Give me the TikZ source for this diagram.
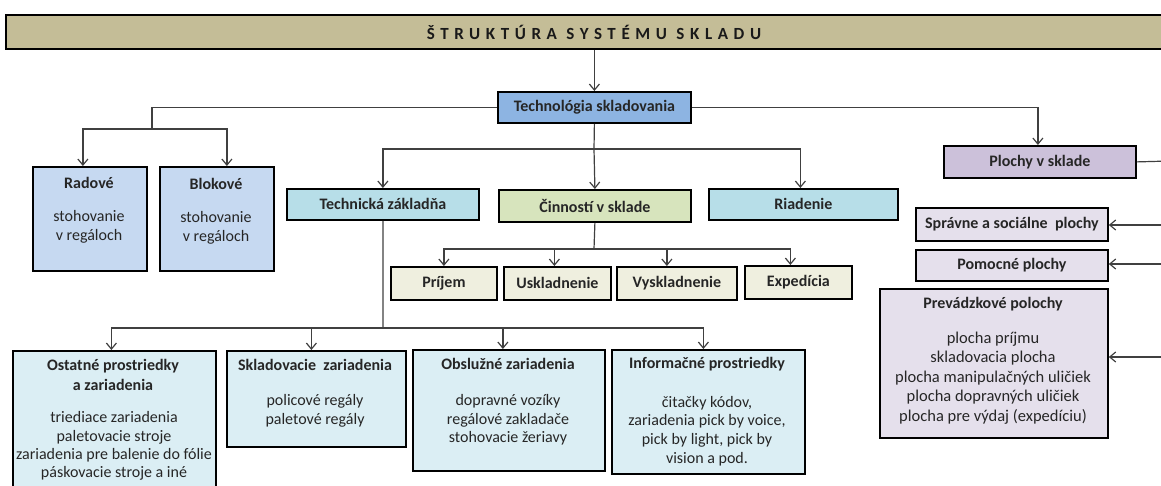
\documentclass[tikz,border=0pt]{standalone}
\usepackage{fontspec}
\setmainfont{Carlito}
\usetikzlibrary{arrows.meta}
\definecolor{cTitle}{HTML}{C4BD97}
\definecolor{cTech}{HTML}{8DB4E2}
\definecolor{cRad}{HTML}{C6D9F1}
\definecolor{cTZ}{HTML}{B7DEE8}
\definecolor{cCin}{HTML}{D7E4BD}
\definecolor{cAct}{HTML}{EFEFDF}
\definecolor{cBot}{HTML}{DBEEF4}
\definecolor{cPl}{HTML}{CCC1DA}
\definecolor{cPlL}{HTML}{E5E0EC}
\definecolor{cLine}{HTML}{404040}
\definecolor{cTxt}{HTML}{262626}
\begin{document}
\begin{tikzpicture}[x=1pt,y=-1pt,
  box/.style={draw=black, line width=1.8pt, inner sep=0pt, anchor=north west,
    text=cTxt, font=\bfseries\fontsize{16}{19}\selectfont},
  conn/.style={draw=cLine, line width=1.2pt},
  arr/.style={conn, -{Straight Barb[length=6pt,width=10pt]}},
  ttl/.style={text=cTxt, font=\bfseries\fontsize{16}{20}\selectfont, align=center, inner sep=0pt},
  body/.style={text=cTxt, font=\fontsize{16}{19}\selectfont, align=center, inner sep=0pt},
]
\useasboundingbox (0,0) rectangle (1161,486);
\clip (0,0) rectangle (1161,486);

% title bar
\node[box, fill=cTitle, minimum width=1175, minimum height=34] (title) at (5,14) {};
\node[text=black!90, font=\bfseries\fontsize{17}{19}\selectfont, inner sep=0pt] (titletext) at (594,32)
  {\addfontfeatures{LetterSpace=33}ŠTRUKTÚRA SYSTÉMU SKLADU};

% level 1
\node[box, fill=cTech, minimum width=193, minimum height=31] (tech) at (497,91) {Technológia skladovania};

% left group
\node[box, fill=cRad, minimum width=114, minimum height=104] (radove) at (32,166) {};
\node[ttl] (radT) at (89,183) {Radové};
\node[body] (radB) at (89,227) {stohovanie\\v regáloch};
\node[box, fill=cRad, minimum width=114, minimum height=104] (blokove) at (159,166) {};
\node[ttl] (blokT) at (216,184) {Blokové};
\node[body] (blokB) at (216,228) {stohovanie\\v regáloch};

% middle group
\node[box, fill=cTZ, minimum width=192, minimum height=31] (techz) at (286,188) {Technická základňa};
\node[box, fill=cCin, minimum width=192, minimum height=32] (cinn) at (498,189) {Činností v sklade};
\node[box, fill=cTZ, minimum width=189, minimum height=31] (riad) at (708,188) {Riadenie};

\node[box, fill=cAct, minimum width=106, minimum height=33] (prijem) at (390,266) {Príjem};
\node[box, fill=cAct, minimum width=107, minimum height=33] (uskl) at (503,266) {Uskladnenie};
\node[box, fill=cAct, minimum width=120, minimum height=33] (vyskl) at (616,266) {Vyskladnenie};
\node[box, fill=cAct, minimum width=107, minimum height=33] (exped) at (744,265) {Expedícia};

% bottom group
\node[box, fill=cBot, minimum width=203, minimum height=150] (ostat) at (12,350) {};
\node[ttl] (ostT) at (113,375) {Ostatné prostriedky\\a zariadenia};
\node[body, font=\fontsize{16}{18.3}\selectfont] (ostB) at (114,446)
  {triediace zariadenia\\paletovacie stroje\\zariadenia pre balenie do fólie\\páskovacie stroje a iné};
\node[box, fill=cBot, minimum width=179, minimum height=96] (sklad) at (226,350) {};
\node[ttl] (skT) at (315,365) {Skladovacie\ \ zariadenia};
\node[body, font=\fontsize{16}{18.5}\selectfont] (skB) at (315,411) {policové regály\\paletové regály};
\node[box, fill=cBot, minimum width=192, minimum height=121] (obsl) at (412,349) {};
\node[ttl] (obT) at (508,364) {Obslužné zariadenia};
\node[body, font=\fontsize{16}{18.5}\selectfont] (obB) at (508,420) {dopravné vozíky\\regálové zakladače\\stohovacie žeriavy};
\node[box, fill=cBot, minimum width=193, minimum height=124] (info) at (611,349) {};
\node[ttl] (inT) at (707,364) {Informačné prostriedky};
\node[body, font=\fontsize{16}{18.8}\selectfont] (inB) at (707,431) {čitačky kódov,\\zariadenia pick by voice,\\pick by light, pick by\\vision a pod.};

% right group
\node[box, fill=cPl, minimum width=192, minimum height=32] (plochy) at (943,145) {Plochy v sklade};
\node[box, fill=cPlL, minimum width=192, minimum height=33] (sprav) at (915,207) {Správne a sociálne\ \ plochy};
\node[box, fill=cPlL, minimum width=192, minimum height=31] (pomoc) at (915,249) {Pomocné plochy};
\node[box, fill=cPlL, minimum width=228, minimum height=149] (prev) at (879,288) {};
\node[ttl] (prT) at (993,304) {Prevádzkové polochy};
\node[body, font=\fontsize{16.5}{19.5}\selectfont] (prB) at (993,378)
  {plocha príjmu\\skladovacia plocha\\plocha manipulačných uličiek\\plocha dopravných uličiek\\plocha pre výdaj (expedíciu)};

% junction coordinates
\coordinate (jL) at (152,129);
\coordinate (jM) at (594,149);
\coordinate (jA) at (594,249);
\coordinate (jB) at (383,328);
\coordinate (eP) at (1170,161);
\coordinate (eS) at (1170,225);
\coordinate (eM) at (1170,264);
\coordinate (eV) at (1170,357);

% connectors
\draw[arr] (tech.north |- title.south) -- (tech.north);
\draw[conn] (tech.west) -| (jL);
\draw[arr] (jL) -| ([xshift=-7pt]radove.north);
\draw[arr] (jL) -| ([xshift=10pt]blokove.north);
\draw[conn] (tech.south) -- (jM);
\draw[arr] (jM) -- (cinn.north);
\draw[arr] (jM) -| (techz.north);
\draw[arr] (jM) -| ([xshift=-3pt]riad.north);
\draw[arr] (tech.east) -| ([xshift=-2pt]plochy.north);
\draw[conn] (cinn.south) -- (jA);
\draw[arr] (jA) -| (prijem.north);
\draw[arr] (jA) -| ([xshift=-3pt]uskl.north);
\draw[arr] (jA) -| ([xshift=-10pt]vyskl.north);
\draw[arr] (jA) -| ([xshift=-8pt]exped.north);
\draw[conn] (techz.south) -- (jB);
\draw[arr] (jB) -| ([xshift=-3pt]ostat.north);
\draw[arr] (jB) -| ([xshift=-5pt]sklad.north);
\draw[arr] (jB) -| ([xshift=-6pt]obsl.north);
\draw[arr] (jB) -| ([xshift=-5pt]info.north);
\draw[conn] (plochy.east) -- (eP);
\draw[arr] (eS) -- (sprav.east |- eS);
\draw[arr] (eM) -- (pomoc.east |- eM);
\draw[arr] (eV) -- (prev.east |- eV);
\end{tikzpicture}
\end{document}
